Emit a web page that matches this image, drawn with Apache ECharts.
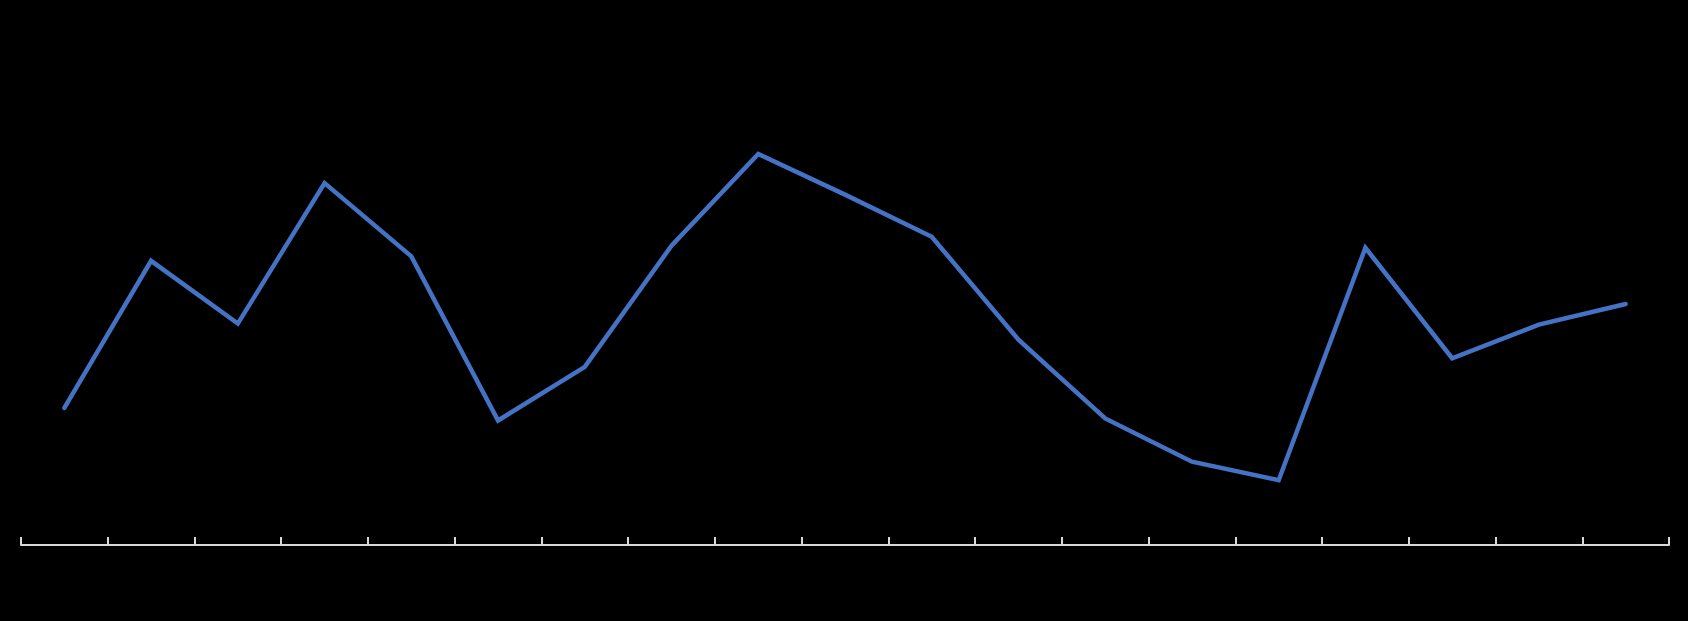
<!DOCTYPE html>
<html>
<head>
<meta charset="utf-8">
<title>chart</title>
<script src="https://cdn.jsdelivr.net/npm/echarts@6/dist/echarts.min.js"></script>
<style>
  html, body { margin: 0; padding: 0; background: #000; }
  #chart { width: 1688px; height: 621px; }
</style>
</head>
<body>
<div id="chart"></div>
<script>
// 数据（文字为黑色，原图中看不见）
const categories = ['2005', '2006', '2007', '2008', '2009', '2010', '2011', '2012', '2013', '2014',
  '2015', '2016', '2017', '2018', '2019', '2020', '2021', '2022', '2023']
const values = [27.3, 56.6, 44.1, 72.1, 57.5, 24.8, 35.5, 59.6, 77.9, 69.8,
  61.4, 40.9, 25.2, 16.6, 12.9, 59.2, 37.2, 43.9, 48.0]
const yMin = 0
const yMax = 100

const chart = echarts.init(document.getElementById('chart'))

const option = {
  backgroundColor: '#000000',
  animation: false,
  grid: {
    left: 21,
    right: 19,
    top: 43,
    bottom: 76
  },
  xAxis: {
    type: 'category',
    data: categories,
    boundaryGap: true,
    axisLine: {
      lineStyle: { color: '#d9d9d9', width: 2 }
    },
    axisTick: {
      show: true,
      inside: true,
      length: 8,
      lineStyle: { color: '#d9d9d9', width: 2 }
    },
    axisLabel: {
      color: '#000000',
      fontSize: 12,
      fontFamily: 'Liberation Sans'
    }
  },
  yAxis: {
    type: 'value',
    min: yMin,
    max: yMax,
    show: false,
    splitLine: { show: false }
  },
  series: [
    {
      type: 'line',
      data: values,
      symbol: 'none',
      lineStyle: {
        color: '#4472c4',
        width: 4.5,
        cap: 'round',
        join: 'miter'
      },
      label: {
        show: true,
        position: 'top',
        distance: 22,
        color: '#000000',
        fontSize: 12,
        fontFamily: 'Liberation Sans',
        formatter: p => p.value.toFixed(1)
      }
    }
  ]
}

chart.setOption(option)
window.addEventListener('resize', () => chart.resize())
</script>
</body>
</html>
